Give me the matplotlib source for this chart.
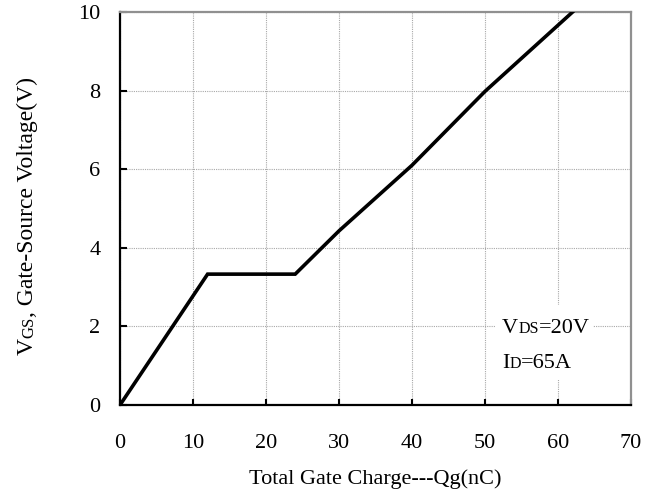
import matplotlib
matplotlib.use("Agg")
import matplotlib.pyplot as plt
from matplotlib.patches import Rectangle
from matplotlib.transforms import Affine2D, offset_copy

qg = [0, 12, 24, 30, 40, 50, 62]
vgs = [0, 3.33, 3.33, 4.43, 6.1, 7.98, 10.0]
x_ticks = [0, 10, 20, 30, 40, 50, 60, 70]
y_ticks = [0, 2, 4, 6, 8, 10]

FONT = "Liberation Serif"
BIG = 16
SMALL = 11.5

plt.rcParams["font.family"] = FONT

W, H = 654, 492
fig = plt.figure(figsize=(W / 100, H / 100), dpi=100)
ax = fig.add_axes([120 / W, 1 - 405 / H, 511 / W, 393 / H])

ax.plot(qg, vgs, color="black", lw=2.6, solid_joinstyle="miter", zorder=3)

ax.set_xlim(0, 70)
ax.set_ylim(0, 10)
ax.set_xticks(x_ticks)
ax.set_yticks(y_ticks)
ax.grid(True, color="#a8a8a8", ls=(0, (1, 1)), lw=0.8)

for side in ("left", "bottom"):
    ax.spines[side].set_color("black")
    ax.spines[side].set_linewidth(1.6)
for side in ("top", "right"):
    ax.spines[side].set_color("#909090")
    ax.spines[side].set_linewidth(1.6)

ax.tick_params(axis="x", direction="in", length=4, width=1.5, pad=21,
               labelsize=BIG, top=False)
ax.tick_params(axis="y", direction="in", length=5, width=1.5, pad=14,
               labelsize=BIG, right=False)

renderer = fig.canvas.get_renderer()
px = Affine2D().scale(1 / fig.dpi) + fig.dpi_scale_trans  # pixel coords


def rich_text(x, y, pieces, rotation=0):
    # draw text pieces of different size on one baseline
    step = 0.0
    for s, size in pieces:
        if rotation == 90:
            tr = offset_copy(px, fig=fig, x=0, y=step, units="dots")
        else:
            tr = offset_copy(px, fig=fig, x=step, y=0, units="dots")
        t = fig.text(x, y, s, transform=tr, fontsize=size, ha="left",
                     va="baseline", rotation=rotation,
                     rotation_mode="anchor", zorder=5)
        bb = t.get_window_extent(renderer)
        step += bb.height if rotation == 90 else bb.width


# white patch behind the condition text
fig.add_artist(Rectangle((496 / W, 1 - 380 / H), 97 / W, 75 / H,
                         transform=fig.transFigure, facecolor="white",
                         edgecolor="none", zorder=4))
rich_text(502, H - 333, [("V", BIG), ("DS", SMALL), ("=20V", BIG)])
rich_text(502, H - 368, [("I", BIG), ("D", SMALL), ("=65A", BIG)])

# axis labels
ax.text(0.5, (405 - 484) / 393, "Total Gate Charge---Qg(nC)", transform=ax.transAxes,
        ha="center", va="baseline", fontsize=BIG)
rich_text(33, H - 355, [("V", 17), ("GS", 12), (", Gate-Source Voltage(V)", 17)],
          rotation=90)

fig.savefig("out.png", dpi=100)
